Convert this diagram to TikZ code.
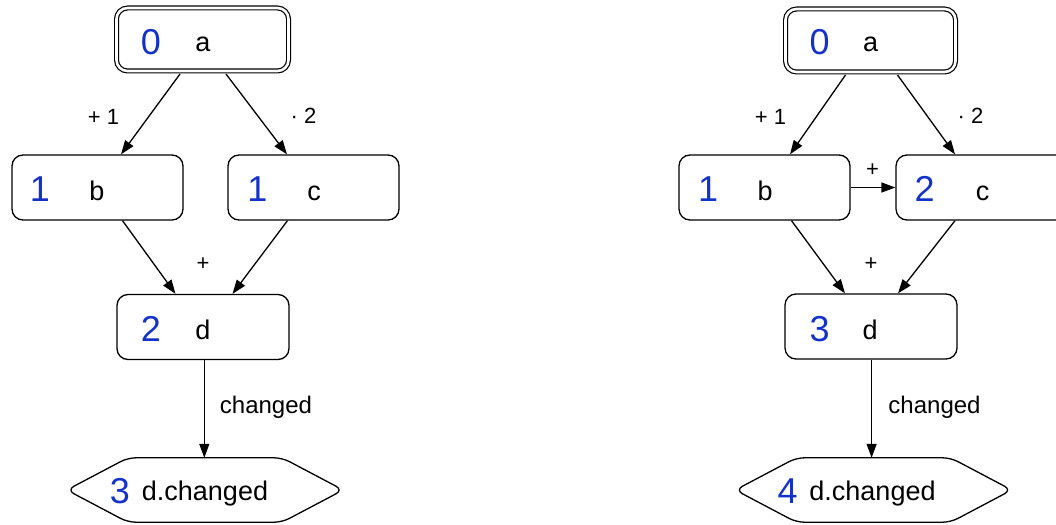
\documentclass[tikz,border=0pt]{standalone}
\usepackage{fontspec}
\setmainfont{Liberation Sans}
\usetikzlibrary{arrows.meta}
\definecolor{numblue}{RGB}{20,50,200}

\tikzset{
  x=1pt, y=-1pt,
  box/.style={draw, line width=1.3pt, rounded corners=11pt,
    minimum width=171pt, minimum height=65pt, inner sep=0pt},
  rootbox/.style={box, double, double distance=2.6pt, line width=1.2pt,
    minimum width=172pt, minimum height=63pt, outer sep=3pt},
  hexcore/.style={minimum width=154pt, minimum height=64pt, inner sep=0pt},
  hexline/.style={draw, line width=1.3pt, rounded corners=8pt},
  num/.style={text=numblue, font=\fontsize{36}{40}\selectfont, anchor=base, inner sep=0pt},
  txt/.style={font=\fontsize{27}{31}\selectfont, anchor=base, inner sep=0pt},
  elabel/.style={font=\fontsize{22}{26}\selectfont, anchor=base, inner sep=0pt},
  wlabel/.style={font=\fontsize{24}{28}\selectfont, anchor=base, inner sep=0pt},
  arr/.style={line width=1.3pt, -{Triangle[length=14pt, width=10pt]}},
}

\begin{document}
\begin{tikzpicture}
\useasboundingbox (0,0) rectangle (1056,524);
\clip (0,0) rectangle (1056,524);

% ---------- left graph ----------
\node[rootbox] (aL) at (202.5,39.5) {};
\node[box] (bL) at (97.5,187.5) {};
\node[box] (cL) at (313.5,187.5) {};
\node[box, minimum width=172pt] (dL) at (203,327) {};
\node[hexcore] (hL) at (205,490) {};
\draw[hexline] (hL.north west) -- (hL.north east) -- ([xshift=61pt]hL.east)
  -- (hL.south east) -- (hL.south west) -- ([xshift=-61pt]hL.west) -- cycle;

\node[num] (aLn) at (151,55) {0};
\node[txt] (aLt) at (203,52) {a};
\node[num] (bLn) at (40,201.5) {1};
\node[txt] (bLt) at (97,200) {b};
\node[num] (cLn) at (257.5,201.5) {1};
\node[txt] (cLt) at (314,200) {c};
\node[num] (dLn) at (151,341.5) {2};
\node[txt] (dLt) at (203,339) {d};
\node[num] (hLn) at (120,503.5) {3};
\node[txt] (hLt) at (205,500) {d.changed};

\draw[arr] ([xshift=-22.5pt]aL.south) -- ([xshift=23.5pt]bL.north);
\draw[arr] ([xshift=23.5pt]aL.south) -- ([xshift=-26.5pt]cL.north);
\draw[arr] ([xshift=25pt]bL.south) -- ([xshift=-27.5pt]dL.north);
\draw[arr] ([xshift=-26pt]cL.south) -- ([xshift=29.5pt]dL.north);
\draw[arr] ([xshift=1.3pt]dL.south) -- ([xshift=1.3pt]dL.south |- hL.north);

\node[elabel] (lab1) at (103.5,124.5) {+ 1};
\node[elabel] (lab2) at (303.5,123) {\textperiodcentered\ 2};
\node[elabel] (lab3) at (203,270) {+};
\node[wlabel] (lab4) at (266,413) {changed};

% ---------- right graph ----------
\node[rootbox, minimum width=170pt] (aR) at (870.5,40.5) {};
\node[box] (bR) at (764.5,187.5) {};
\node[box] (cR) at (981.5,187.5) {};
\node[box, minimum width=172pt] (dR) at (871,326.5) {};
\node[hexcore] (hR) at (873.5,490) {};
\draw[hexline] (hR.north west) -- (hR.north east) -- ([xshift=61pt]hR.east)
  -- (hR.south east) -- (hR.south west) -- ([xshift=-61pt]hR.west) -- cycle;

\node[num] (aRn) at (819.5,55) {0};
\node[txt] (aRt) at (870.5,52) {a};
\node[num] (bRn) at (708,201.5) {1};
\node[txt] (bRt) at (765,200) {b};
\node[num] (cRn) at (924.5,201.5) {2};
\node[txt] (cRt) at (982.5,200) {c};
\node[num] (dRn) at (819.5,341) {3};
\node[txt] (dRt) at (870,339) {d};
\node[num] (hRn) at (787.5,503.5) {4};
\node[txt] (hRt) at (872.5,500) {d.changed};

\draw[arr] ([xshift=-25pt]aR.south) -- ([xshift=25.5pt]bR.north);
\draw[arr] ([xshift=27pt]aR.south) -- ([xshift=-26.5pt]cR.north);
\draw[arr] (bR.east) -- (cR.west);
\draw[arr] ([xshift=27pt]bR.south) -- ([xshift=-26pt]dR.north);
\draw[arr] ([xshift=-26.5pt]cR.south) -- ([xshift=27pt]dR.north);
\draw[arr] ([xshift=0.6pt]dR.south) -- ([xshift=0.6pt]dR.south |- hR.north);

\node[elabel] (lab5) at (770.5,124.5) {+ 1};
\node[elabel] (lab6) at (970.5,123) {\textperiodcentered\ 2};
\node[elabel] (lab7) at (872.5,176) {+};
\node[elabel] (lab8) at (871,270) {+};
\node[wlabel] (lab9) at (934.5,413) {changed};
\end{tikzpicture}
\end{document}
